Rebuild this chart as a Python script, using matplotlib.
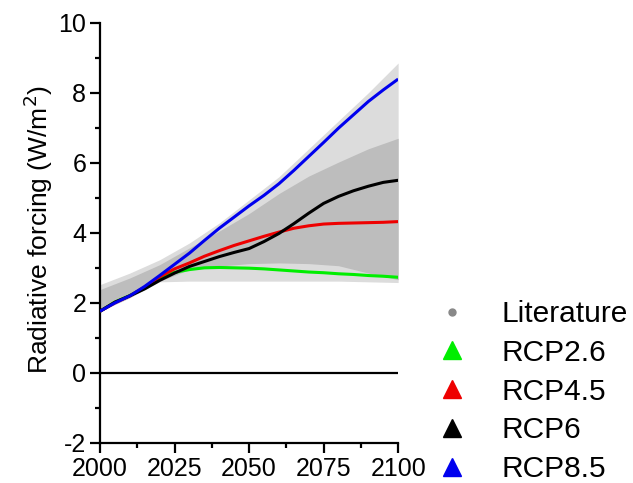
import matplotlib
matplotlib.use("Agg")
import matplotlib.pyplot as plt
from matplotlib.lines import Line2D
from matplotlib.ticker import MultipleLocator

plt.rcParams['font.family'] = ['Liberation Sans', 'DejaVu Sans']
plt.rcParams['axes.unicode_minus'] = False

# Radiative forcing pathways (W/m2), five-year steps
years = [2000, 2005, 2010, 2015, 2020, 2025, 2030, 2035, 2040, 2045, 2050,
         2055, 2060, 2065, 2070, 2075, 2080, 2085, 2090, 2095, 2100]
rcp26 = [1.76, 2.02, 2.21, 2.44, 2.72, 2.87, 2.95, 3.00, 3.01, 3.00, 2.99,
         2.97, 2.94, 2.91, 2.88, 2.86, 2.83, 2.81, 2.78, 2.76, 2.73]
rcp45 = [1.76, 2.00, 2.20, 2.45, 2.74, 2.97, 3.14, 3.33, 3.49, 3.64, 3.77,
         3.90, 4.02, 4.13, 4.20, 4.25, 4.27, 4.28, 4.29, 4.30, 4.32]
rcp6 = [1.76, 2.02, 2.20, 2.40, 2.64, 2.85, 3.04, 3.18, 3.32, 3.44, 3.55,
        3.75, 3.98, 4.26, 4.56, 4.84, 5.04, 5.20, 5.33, 5.44, 5.50]
rcp85 = [1.76, 2.00, 2.20, 2.47, 2.78, 3.10, 3.42, 3.78, 4.13, 4.45, 4.77,
         5.07, 5.40, 5.78, 6.18, 6.58, 6.99, 7.37, 7.75, 8.08, 8.39]

# Literature ranges: full range (light) and central range (dark)
band_years = [2000, 2010, 2020, 2030, 2040, 2050, 2060, 2070, 2080, 2090, 2100]
lit_full_hi = [2.52, 2.85, 3.23, 3.71, 4.28, 4.94, 5.60, 6.40, 7.20, 8.00, 8.85]
lit_full_lo = [1.76, 2.15, 2.60, 2.62, 2.62, 2.62, 2.62, 2.62, 2.62, 2.60, 2.58]
lit_mid_hi = [2.38, 2.71, 3.09, 3.57, 4.05, 4.55, 5.12, 5.62, 6.02, 6.40, 6.70]
lit_mid_lo = [1.76, 2.15, 2.62, 2.95, 3.05, 3.12, 3.14, 3.12, 3.06, 2.85, 2.66]

series = [("RCP2.6", rcp26, "#00ee00"),
          ("RCP4.5", rcp45, "#ee0000"),
          ("RCP6", rcp6, "#000000"),
          ("RCP8.5", rcp85, "#0000ee")]

fig = plt.figure(figsize=(6.33, 4.83), dpi=100)
ax = fig.add_axes([0.158, 0.083, 0.471, 0.870])

ax.fill_between(band_years, lit_full_lo, lit_full_hi, color="#dcdcdc", lw=0, zorder=1)
ax.fill_between(band_years, lit_mid_lo, lit_mid_hi, color="#bdbdbd", lw=0, zorder=2)

ax.axhline(0, color="black", lw=1.6, zorder=3)

for name, vals, col in series:
    ax.plot(years, vals, color=col, lw=2.2, zorder=4, solid_capstyle="butt")

ax.set_xlim(2000, 2100)
ax.set_ylim(-2, 10)
ax.xaxis.set_major_locator(MultipleLocator(25))
ax.xaxis.set_minor_locator(MultipleLocator(12.5))
ax.yaxis.set_major_locator(MultipleLocator(2))
ax.yaxis.set_minor_locator(MultipleLocator(1))

for side in ("top", "right"):
    ax.spines[side].set_visible(False)
for side in ("left", "bottom"):
    ax.spines[side].set_linewidth(1.6)

ax.tick_params(which="major", length=7, width=1.6, labelsize=18, pad=3)
ax.tick_params(which="minor", length=3.5, width=1.6)
ax.tick_params(axis="x", which="major", pad=3.5)

ax.set_ylabel("Radiative forcing (W/m$^2$)", fontsize=19)
ax.yaxis.set_label_coords(-0.151, 0.507)

handles = [Line2D([], [], ls="none", marker="o", ms=5, color="#888888")]
handles += [Line2D([], [], ls="none", marker="^", ms=13, color=col)
            for _, _, col in series]
labels = ["Literature"] + [name for name, _, _ in series]

fig.legend(handles, labels, loc="lower left", bbox_to_anchor=(0.686, 0.0),
           frameon=False, fontsize=21.5, handletextpad=1.05, labelspacing=0.36,
           handlelength=1.2, borderaxespad=0, borderpad=0)

fig.savefig("out.png", dpi=100)
